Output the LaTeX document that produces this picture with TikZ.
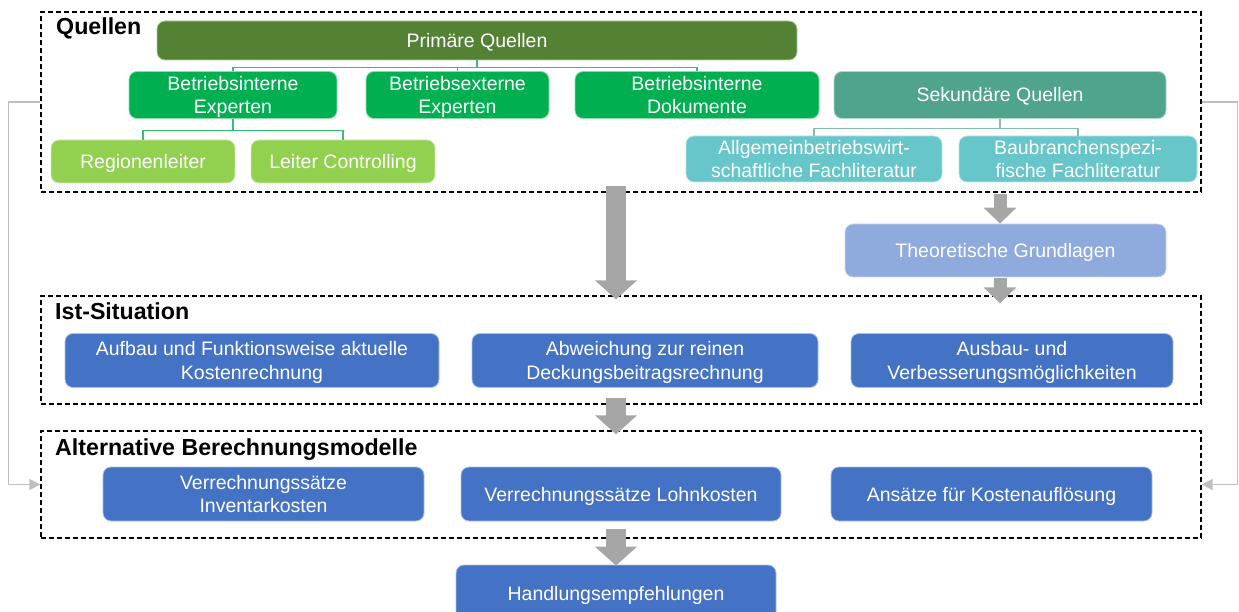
\documentclass[tikz,border=0pt]{standalone}
\usepackage{fontspec}
\setmainfont{Liberation Sans}
\definecolor{qprimary}{HTML}{548235}
\definecolor{qgreen}{HTML}{00B050}
\definecolor{qlight}{HTML}{92D050}
\definecolor{qsecond}{HTML}{50A38C}
\definecolor{qteal}{HTML}{67C6CA}
\definecolor{qtheory}{HTML}{8FAADC}
\definecolor{qblue}{HTML}{4472C4}
\definecolor{qarrow}{HTML}{A6A6A6}
\definecolor{qback}{HTML}{BFBFBF}
\usetikzlibrary{arrows.meta, positioning, calc}

\begin{document}
\begin{tikzpicture}[x=1pt, y=-1pt,
  box/.style={rounded corners=8pt, inner sep=0pt, text=white, align=center,
              draw=white!55!#1, fill=#1, line width=0.8pt,
              font=\fontsize{19.5pt}{23.5pt}\selectfont,
              text height=14pt, text depth=0pt},
  two/.style={text height=37.5pt},
  group/.style={draw=black, dash pattern=on 5pt off 3pt, line width=1.3pt, inner sep=0pt},
  grouplabel/.style={anchor=base west, inner sep=0pt,
                     font=\fontsize{23.2pt}{27pt}\selectfont\bfseries},
  tree/.style={line width=1.2pt, #1},
  fat/.style={qarrow, line width=20pt, -{Triangle[length=19pt, width=41pt]}},
  slim/.style={qarrow, line width=13pt, -{Triangle[length=16pt, width=32pt]}},
  feedback/.style={qback, line width=1.5pt, -{Triangle[length=11pt, width=11pt]}}
]
  \useasboundingbox (0,0) rectangle (1239,612);

  % Groups
  \node[group, minimum width=1160pt, minimum height=180pt] (quellen) at (621,102) {};
  \node[group, minimum width=1160pt, minimum height=108pt] (ist) at (621,350) {};
  \node[group, minimum width=1160pt, minimum height=107pt] (alternativ) at (621,484.5) {};
  \node[grouplabel] (quellenLabel) at (56,35) {Quellen};
  \node[grouplabel] (istLabel) at (55,319) {Ist-Situation};
  \node[grouplabel] (alternativLabel) at (55,455) {Alternative Berechnungsmodelle};

  % Sources
  \node[box=qprimary, minimum width=640pt, minimum height=39pt] (primaer) at (477,40.5) {Primäre Quellen};
  \node[box=qgreen, two, minimum width=208pt, minimum height=47pt] (intExp) at (233,95) {Betriebsinterne\\Experten};
  \node[box=qgreen, two, minimum width=183pt, minimum height=47pt] (extExp) at (457.5,95) {Betriebsexterne\\Experten};
  \node[box=qgreen, two, minimum width=244pt, minimum height=47pt] (intDok) at (697,95) {Betriebsinterne\\Dokumente};
  \node[box=qsecond, minimum width=332pt, minimum height=47pt] (sekundaer) at (1000,95) {Sekundäre Quellen};
  \node[box=qlight, minimum width=184pt, minimum height=43pt] (region) at (143,161.5) {Regionenleiter};
  \node[box=qlight, minimum width=184pt, minimum height=43pt] (leiter) at (343,161.5) {Leiter Controlling};
  \node[box=qteal, two, minimum width=256pt, minimum height=46pt] (allg) at (814,159) {Allgemeinbetriebswirt-\\schaftliche Fachliteratur};
  \node[box=qteal, two, minimum width=238pt, minimum height=46pt] (bau) at (1078,159) {Baubranchenspezi-\\fische Fachliteratur};
  \node[box=qtheory, minimum width=321pt, minimum height=53pt] (theorie) at (1005.5,250.5) {Theoretische Grundlagen};

  % Ist-Situation
  \node[box=qblue, two, minimum width=374pt, minimum height=54pt] (aufbau) at (252,360.5) {Aufbau und Funktionsweise aktuelle\\Kostenrechnung};
  \node[box=qblue, two, minimum width=346pt, minimum height=54pt] (abweichung) at (645,360.5) {Abweichung zur reinen\\Deckungsbeitragsrechnung};
  \node[box=qblue, two, minimum width=322pt, minimum height=54pt] (ausbau) at (1012,360.5) {Ausbau- und\\Verbesserungsmöglichkeiten};

  % Alternative models
  \node[box=qblue, two, minimum width=321pt, minimum height=54pt] (inventar) at (263.5,494) {Verrechnungssätze\\Inventarkosten};
  \node[box=qblue, minimum width=320pt, minimum height=54pt] (lohn) at (621,494) {Verrechnungssätze Lohnkosten};
  \node[box=qblue, minimum width=321pt, minimum height=54pt] (ansaetze) at (991.5,494) {Ansätze für Kostenauflösung};
  \node[box=qblue, minimum width=320pt, minimum height=56pt] (handlung) at (616,593) {Handlungsempfehlungen};

  % Trees
  \draw[tree=qgreen!80!white] (primaer.south) -- ++(0,7) -| (intExp.north);
  \draw[tree=qgreen!80!white] (primaer.south) -- ++(0,7) -| (intDok.north);
  \draw[tree=qgreen!80!white] (primaer.south) -- ++(0,7) -| (extExp.north);
  \draw[tree=qgreen!80!white] (intExp.south) -- ++(0,12) -| (region.north);
  \draw[tree=qgreen!80!white] (intExp.south) -- ++(0,12) -| (leiter.north);
  \draw[tree=qsecond!70!white] (sekundaer.south) -- ++(0,10) -| (allg.north);
  \draw[tree=qsecond!70!white] (sekundaer.south) -- ++(0,10) -| (bau.north);

  % Arrows
  \draw[fat] ($(quellen.south -| handlung.north)+(0,-7)$) -- ($(ist.north -| handlung.north)+(0,4)$);
  \draw[fat] ($(ist.south -| handlung.north)+(0,-7)$) -- ($(alternativ.north -| handlung.north)+(0,4)$);
  \draw[fat] ($(alternativ.south -| handlung.north)+(0,-10)$) -- ($(handlung.north)+(0,1)$);
  \draw[slim] ($(quellen.south -| sekundaer.south)+(0,1)$) -- (theorie.north -| sekundaer.south);
  \draw[slim] ($(theorie.south -| sekundaer.south)+(0,1)$) -- ($(ist.north -| sekundaer.south)+(0,8)$);

  % Feedback
  \draw[feedback] (quellen.west) -- ++(-32,0) |- (alternativ.west);
  \draw[feedback] (quellen.east) -- ++(36,0) |- (alternativ.east);
\end{tikzpicture}
\end{document}
